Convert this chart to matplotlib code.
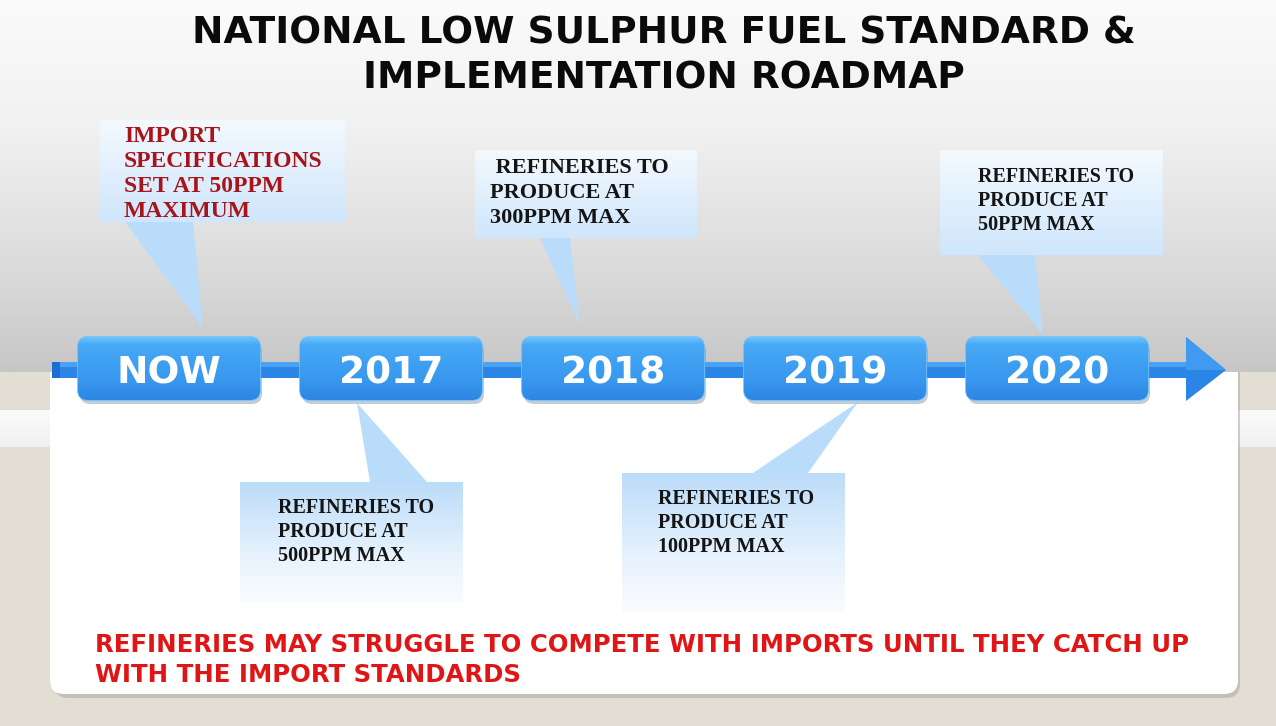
import matplotlib
matplotlib.use("Agg")
import matplotlib.pyplot as plt
import numpy as np
from matplotlib.patches import FancyBboxPatch, Polygon, Rectangle
from matplotlib.colors import to_rgb

# timeline milestones and callout texts
milestones = ["NOW", "2017", "2018", "2019", "2020"]
callouts = [
    "IMPORT\nSPECIFICATIONS\nSET AT 50PPM\nMAXIMUM",
    "REFINERIES TO\nPRODUCE AT\n500PPM MAX",
    " REFINERIES TO\nPRODUCE AT\n300PPM MAX",
    "REFINERIES TO\nPRODUCE AT\n100PPM MAX",
    "REFINERIES TO\nPRODUCE AT\n50PPM MAX",
]
callout_side = ["up", "down", "up", "down", "up"]
title = "NATIONAL LOW SULPHUR FUEL STANDARD &\nIMPLEMENTATION ROADMAP"
footer = "REFINERIES MAY STRUGGLE TO COMPETE WITH IMPORTS UNTIL THEY CATCH UP\nWITH THE IMPORT STANDARDS"

# layout of the callouts: box (x0, y0, x1, y1), wedge base x-range, tip, text pos, size
layout = [
    dict(box=(100, 120, 345, 222), base=(125, 193), tip=(203, 328), txt=(124, 126), fs=17, ls=1.24, col="#a8141a"),
    dict(box=(240, 482, 463, 602), base=(370, 427), tip=(357, 403), txt=(278, 498), fs=14.5, ls=1.26, col="#141414"),
    dict(box=(475, 150, 697, 238), base=(540, 570), tip=(580, 325), txt=(490, 158), fs=16, ls=1.32, col="#141414"),
    dict(box=(622, 473, 845, 612), base=(753, 808), tip=(858, 402), txt=(658, 489), fs=14.5, ls=1.26, col="#141414"),
    dict(box=(940, 150, 1163, 255), base=(978, 1035), tip=(1043, 335), txt=(978, 167), fs=14.5, ls=1.26, col="#141414"),
]

W, H = 1276, 726
fig = plt.figure(figsize=(W / 100, H / 100), dpi=100)
ax = fig.add_axes([0, 0, 1, 1])
ax.set_xlim(0, W)
ax.set_ylim(H, 0)
ax.axis("off")


def grad(x0, y0, x1, y1, stops, z=1, clip=None, alpha=1.0):
    # vertical gradient, stops = list of (pos, colour) from top to bottom
    n = 256
    t = np.linspace(0, 1, n)
    pos = [s[0] for s in stops]
    cols = np.array([to_rgb(s[1]) for s in stops])
    arr = np.stack([np.interp(t, pos, cols[:, k]) for k in range(3)], axis=-1)
    im = ax.imshow(arr[:, None, :], extent=(x0, x1, y1, y0), origin="upper",
                   aspect="auto", zorder=z, alpha=alpha, interpolation="bilinear")
    if clip is not None:
        im.set_clip_path(clip)
    return im


# background
ax.add_patch(Rectangle((0, 0), W, H, color="#e3ded4", zorder=0))
grad(0, 410, W, 447, [(0, "#fbfbfb"), (1, "#f0f0f0")], z=1)

# white lower panel with shadow
ax.add_patch(FancyBboxPatch((54, 360), 1186, 338, boxstyle="round,pad=0,rounding_size=14",
                            fc="#a9a49c", ec="none", alpha=0.5, zorder=1.5))
ax.add_patch(FancyBboxPatch((50, 350), 1188, 344, boxstyle="round,pad=0,rounding_size=14",
                            fc="white", ec="none", zorder=2))
# grey upper area, drawn over the panel top
grad(0, 0, W, 372, [(0, "#fbfbfb"), (0.35, "#f1f1f1"), (0.75, "#d9d9d9"), (1, "#c6c6c6")], z=2.1)

# callouts
for txt, side, lay in zip(callouts, callout_side, layout):
    bx0, by0, bx1, by1 = lay["box"]
    b0, b1 = lay["base"]
    yb = by1 if side == "up" else by0
    ax.add_patch(Polygon([(b0, yb), (b1, yb), lay["tip"]], closed=True,
                         fc="#b9dcfb", ec="none", zorder=3))
    clip = Rectangle((bx0, by0), bx1 - bx0, by1 - by0, transform=ax.transData)
    if side == "up":
        stops = [(0, "#f4f9fe"), (1, "#cfe6fc")]
    else:
        stops = [(0, "#bcdcf9"), (0.6, "#e6f2fd"), (1, "#fafcff")]
    grad(bx0, by0, bx1, by1, stops, z=3, clip=clip)
    ax.text(lay["txt"][0], lay["txt"][1], txt, ha="left", va="top", color=lay["col"],
            fontsize=lay["fs"], family="Liberation Serif", fontweight="bold",
            linespacing=lay["ls"], zorder=4)

# timeline bar and arrow head
y_bar = 370
ax.add_patch(Rectangle((52, y_bar - 8), 1140, 16, fc="#2a85e6", ec="none", zorder=5))
ax.add_patch(Rectangle((52, y_bar - 8), 1140, 5, fc="#4aa3f2", ec="none", zorder=5))
ax.add_patch(Rectangle((52, y_bar - 8), 8, 16, fc="#1c6fd0", ec="none", zorder=5))
ax.add_patch(Polygon([(1186, 337), (1226, y_bar), (1186, 401)], closed=True,
                     fc="#2a85e6", ec="none", zorder=5))
ax.add_patch(Polygon([(1186, 337), (1226, y_bar), (1186, y_bar)], closed=True,
                     fc="#3f9af0", ec="none", zorder=5))

# milestone boxes
box_w, box_h = 182, 63
centers = 169 + 222 * np.arange(len(milestones))
for i, m in enumerate(milestones):
    cx = centers[i]
    x0, y0 = cx - box_w / 2, 337
    ax.add_patch(FancyBboxPatch((x0 + 2, y0 + 4), box_w, box_h,
                                boxstyle="round,pad=0,rounding_size=10",
                                fc="#7a8fa3", ec="none", alpha=0.45, zorder=5.5))
    box = FancyBboxPatch((x0, y0), box_w, box_h, boxstyle="round,pad=0,rounding_size=10",
                         fc="#3b9bf0", ec="#6cc0fb", lw=1.2, zorder=6)
    ax.add_patch(box)
    grad(x0, y0, x0 + box_w, y0 + box_h,
         [(0, "#6fc6fd"), (0.12, "#47a9f6"), (0.7, "#3797ee"), (1, "#2d86e2")],
         z=6.1, clip=box)
    ax.text(cx, 373, m, ha="center", va="center", color="white",
            fontsize=27, fontweight="bold", family="DejaVu Sans", zorder=7)

# title
ax.text(664, 56, title, ha="center", va="center", fontsize=27, fontweight="heavy",
        family="DejaVu Sans", color="#0a0a0a", linespacing=1.3, zorder=8)

# footer
ax.text(95, 660, footer, ha="left", va="center", fontsize=17.6, fontweight="bold",
        family="DejaVu Sans", color="#e01616", linespacing=1.3, zorder=8)

fig.savefig("out.png", dpi=100)
